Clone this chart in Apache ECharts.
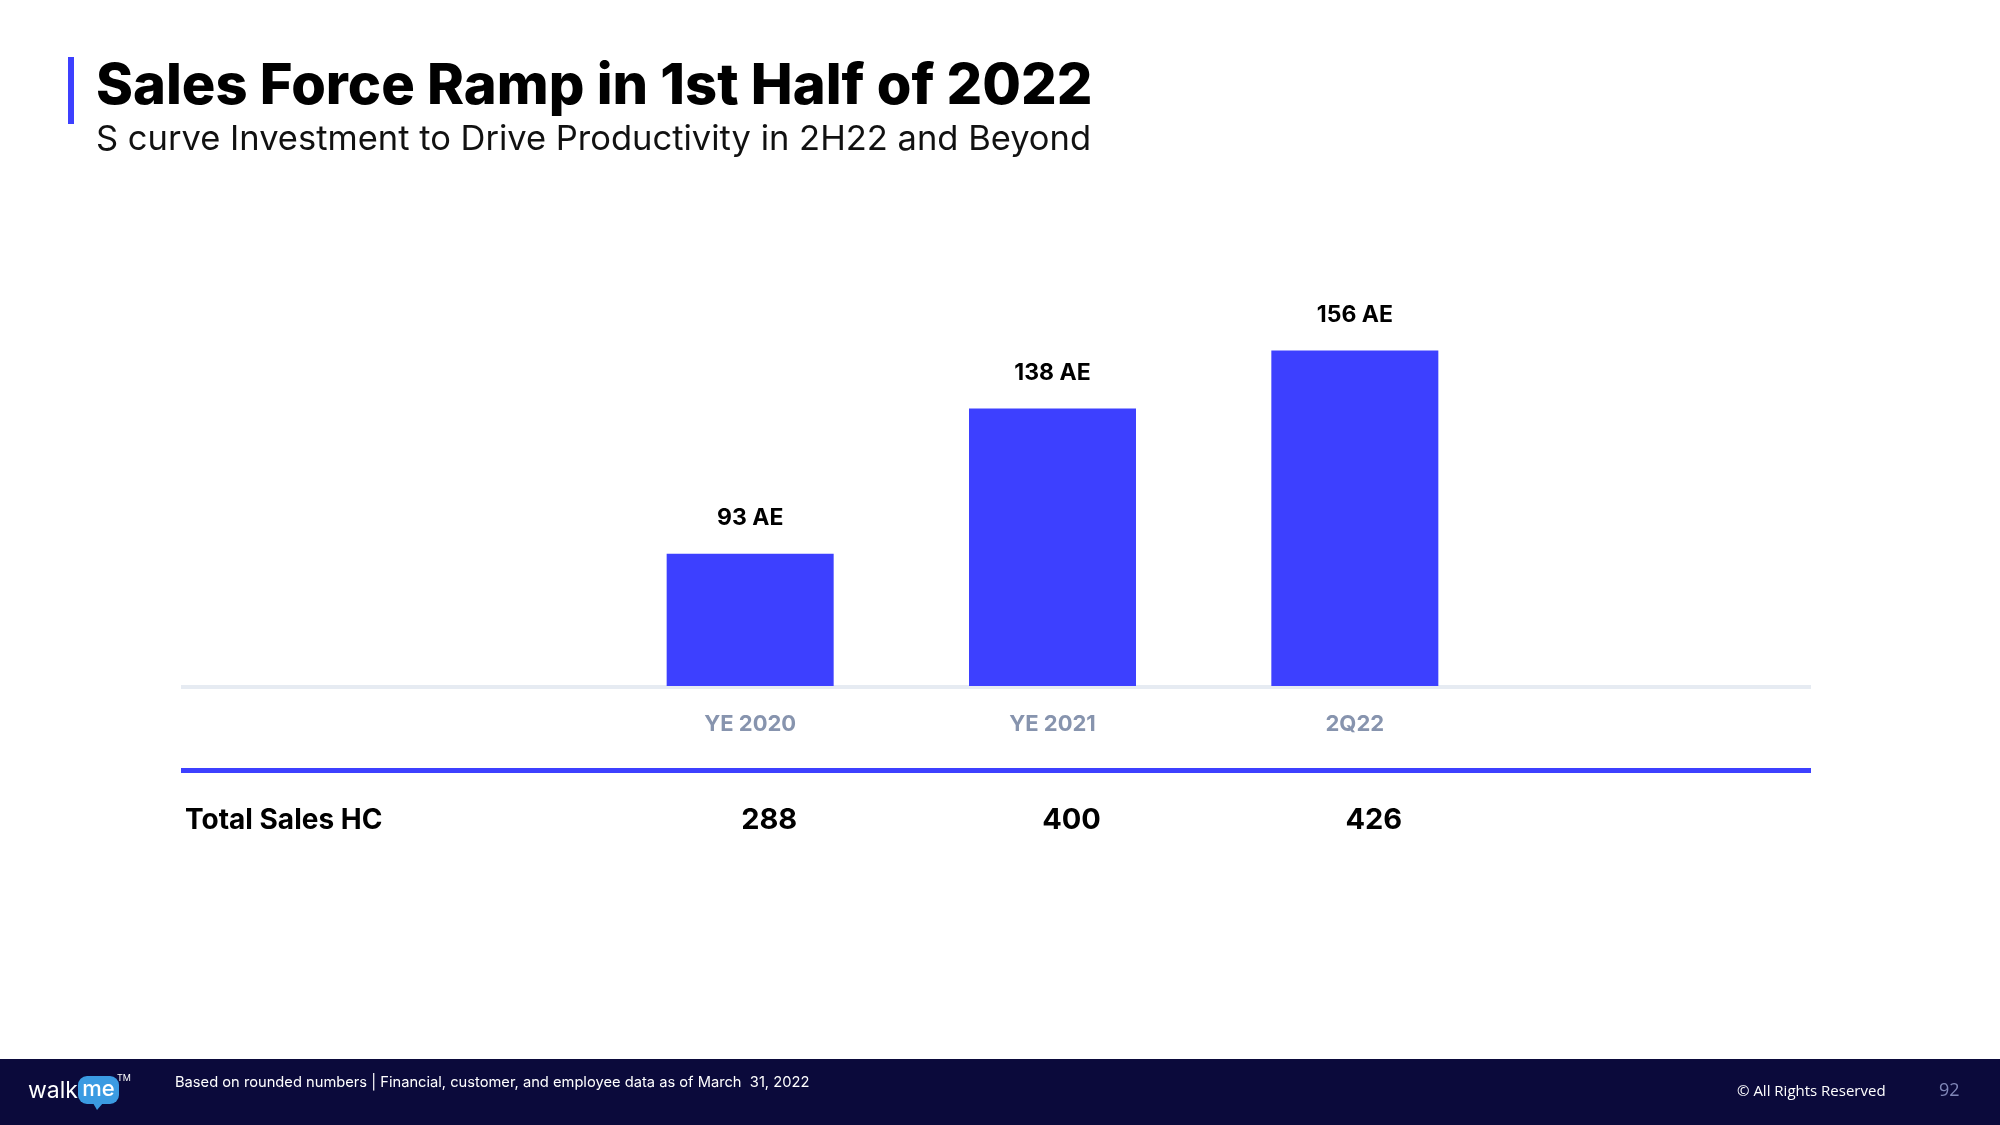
<!DOCTYPE html>
<html><head><meta charset="utf-8">
<script src="https://cdn.jsdelivr.net/npm/echarts@6/dist/echarts.min.js"></script>
<style>html,body{margin:0;padding:0;background:#fff}#c{width:2000px;height:1125px}</style>
</head><body><div id="c"></div>
<script>
const titleText = 'Sales Force Ramp in 1st Half of 2022';
const subtitleText = 'S curve Investment to Drive Productivity in 2H22 and Beyond';
const categories = ['YE 2020', 'YE 2021', '2Q22'];
const aeCounts = [93, 138, 156];
const rowLabel = 'Total Sales HC';
const totalSalesHC = [288, 400, 426];
const footnote = 'Based on rounded numbers | Financial, customer, and employee data as of March  31, 2022';
const rightsText = '\u00A9 All Rights Reserved';
const pageNo = '92';

const BLUE = '#3D40FF';
const FONT = 'Inter, "Noto Sans", sans-serif';
const chart = echarts.init(document.getElementById('c'), null, {renderer: 'canvas'});

chart.setOption({
  backgroundColor: '#ffffff',
  animation: false,
  grid: {left: 599, right: 494, top: 286, bottom: 439},
  xAxis: [{
    type: 'category', data: categories, gridIndex: 0,
    axisLine: {show: false}, axisTick: {show: false},
    axisLabel: {margin: 27, fontSize: 22, fontWeight: 700, color: '#8794ae', fontFamily: FONT}
  }, {
    type: 'category', data: categories, gridIndex: 0, position: 'bottom', offset: 108,
    axisLine: {show: false}, axisTick: {show: false},
    axisLabel: {margin: 12, fontSize: 29, fontWeight: 700, color: '#000', fontFamily: FONT,
      padding: [0, 0, 0, 38],
      formatter: (v, i) => String(totalSalesHC[i])}
  }],
  yAxis: {type: 'value', min: 52, max: 176, show: false, splitLine: {show: false}},
  series: [{
    type: 'bar', data: aeCounts, barWidth: 167,
    itemStyle: {color: BLUE},
    label: {show: true, position: 'top', distance: 24, fontSize: 23, fontWeight: 700,
      color: '#000', fontFamily: FONT, formatter: p => p.value + ' AE'}
  }],
  graphic: [
    {type: 'rect', shape: {x: 68, y: 57, width: 6, height: 67}, style: {fill: BLUE}},
    {type: 'text', x: 96, y: 87, style: {text: titleText, fontSize: 56, fontWeight: 800, fill: '#000',
      fontFamily: FONT, textVerticalAlign: 'middle'}},
    {type: 'text', x: 96, y: 140, style: {text: subtitleText, fontSize: 34.5, fontWeight: 400, fill: '#111',
      fontFamily: FONT, textVerticalAlign: 'middle'}},
    {type: 'rect', z: -1, shape: {x: 181, y: 685, width: 1630, height: 4}, style: {fill: '#e6ebf2'}},
    {type: 'rect', shape: {x: 181, y: 768, width: 1630, height: 5}, style: {fill: BLUE}},
    {type: 'text', x: 185, y: 821, style: {text: rowLabel, fontSize: 28, fontWeight: 700, fill: '#000',
      fontFamily: FONT, textVerticalAlign: 'middle'}},
    {type: 'rect', shape: {x: 0, y: 1059, width: 2000, height: 66}, style: {fill: '#0b0a3b'}},
    {type: 'text', x: 28, y: 1091, style: {text: 'walk', fontSize: 23, fontWeight: 400, fill: '#fff',
      fontFamily: FONT, textVerticalAlign: 'middle'}},
    {type: 'rect', shape: {x: 78, y: 1076, width: 41, height: 28, r: 9}, style: {fill: '#3b9be2'}},
    {type: 'polygon', shape: {points: [[93, 1103], [103, 1103], [97, 1110]]}, style: {fill: '#3b9be2'}},
    {type: 'text', x: 98.5, y: 1089, style: {text: 'me', fontSize: 22, fontWeight: 500, fill: '#fff',
      fontFamily: FONT, textAlign: 'center', textVerticalAlign: 'middle'}},
    {type: 'text', x: 117, y: 1078, style: {text: 'TM', fontSize: 9, fill: '#fff', fontFamily: FONT,
      textVerticalAlign: 'middle'}},
    {type: 'text', x: 175, y: 1083, style: {text: footnote, fontSize: 14.7, fill: '#ffffff',
      fontFamily: FONT, textVerticalAlign: 'middle'}},
    {type: 'text', x: 1737, y: 1092, style: {text: rightsText, fontSize: 15, fill: '#ffffff',
      fontFamily: '"Open Sans", sans-serif', textVerticalAlign: 'middle'}},
    {type: 'text', x: 1939, y: 1091, style: {text: pageNo, fontSize: 18, fill: '#8087b8',
      fontFamily: '"Open Sans", sans-serif', textVerticalAlign: 'middle'}}
  ]
});
</script></body></html>
